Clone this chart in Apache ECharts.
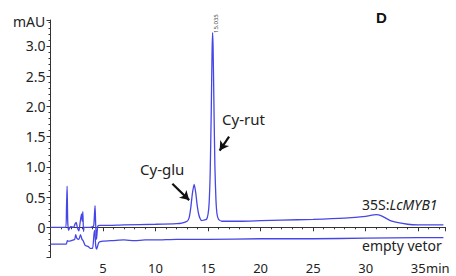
<!DOCTYPE html>
<html><head><meta charset="utf-8">
<script src="https://cdn.jsdelivr.net/npm/echarts@6/dist/echarts.min.js"></script>
<style>html,body{margin:0;padding:0;background:#fff}#c{width:456px;height:276px}</style>
</head><body><div id="c"></div>
<script>
// 35S:LcMYB1 trace (time min, mAU)
var topTime = [0, 1.0, 1.45, 1.52, 1.58, 1.64, 1.72, 1.9, 2.2, 2.35, 2.45, 2.55, 2.7, 2.8, 2.95, 3.02, 3.08, 3.14, 3.2, 3.35, 3.8, 4.1, 4.18, 4.24, 4.3, 4.38, 4.5, 4.7, 5, 7, 10, 12, 12.5, 13.0, 13.2, 13.35, 13.5, 13.67, 13.82, 13.95, 14.1, 14.25, 14.4, 14.6, 14.85, 15.0, 15.1, 15.2, 15.3, 15.38, 15.43, 15.48, 15.56, 15.65, 15.75, 15.85, 16.0, 16.3, 17, 18, 20, 22, 25, 28, 30, 31, 31.5, 32.5, 34, 35, 37.4];
var topVal  = [0, 0, 0, 0.3, 0.68, 0.1, -0.05, 0.01, 0.0, 0.06, 0.08, 0.0, -0.06, 0.05, 0.22, 0.1, 0.26, -0.07, 0.0, 0.0, 0.0, 0.02, 0.2, 0.36, 0.05, -0.2, 0.02, 0.03, 0.03, 0.04, 0.05, 0.06, 0.07, 0.1, 0.16, 0.32, 0.55, 0.71, 0.58, 0.38, 0.22, 0.14, 0.11, 0.12, 0.13, 0.22, 0.4, 0.9, 1.9, 2.9, 3.22, 2.95, 2.0, 1.0, 0.45, 0.22, 0.13, 0.1, 0.1, 0.1, 0.11, 0.12, 0.13, 0.15, 0.18, 0.21, 0.19, 0.1, 0.05, 0.04, 0.04];
// empty vetor trace
var botTime = [0, 1.0, 1.5, 1.6, 1.7, 2.0, 2.3, 2.4, 2.5, 2.7, 2.85, 3.0, 3.1, 3.3, 3.6, 3.8, 4.0, 4.15, 4.22, 4.3, 4.4, 4.6, 5, 6, 7, 8, 9, 10, 12, 15, 20, 25, 30, 35, 37.4];
var botVal  = [-0.28, -0.28, -0.28, -0.22, -0.23, -0.22, -0.2, -0.12, -0.18, -0.2, -0.12, -0.2, -0.22, -0.3, -0.32, -0.35, -0.35, -0.1, -0.05, -0.3, -0.36, -0.25, -0.23, -0.22, -0.21, -0.22, -0.21, -0.21, -0.2, -0.2, -0.19, -0.19, -0.18, -0.17, -0.17];
var xTicks = [5, 10, 15, 20, 25, 30, 35];
var yTicks = [0, 0.5, 1.0, 1.5, 2.0, 2.5, 3.0];

function pairs(t, v){ return t.map(function(x,i){ return [x, v[i]]; }); }

var chart = echarts.init(document.getElementById('c'), null, {renderer:'svg'});
var FONT = 'Noto Sans';
var blue = '#4646e6';
chart.setOption({
  animation:false,
  grid:{left:50.5, right:10.5, top:20, bottom:18.5},
  xAxis:{type:'value', min:0, max:37.6, interval:5,
    axisLine:{lineStyle:{color:'#333', width:1}},
    axisTick:{show:true, inside:false, length:4, lineStyle:{color:'#333'}},
    minorTick:{show:true, splitNumber:5, length:2, lineStyle:{color:'#333'}},
    splitLine:{show:false},
    axisLabel:{margin:4, fontFamily:FONT, fontSize:13, lineHeight:13, color:'#222',
      formatter:function(v){ return xTicks.indexOf(v)>=0 ? String(v) : ''; }}
  },
  yAxis:{type:'value', min:-0.5, max:3.43, interval:0.5,
    axisLine:{show:true, lineStyle:{color:'#333', width:1}},
    axisTick:{show:true, inside:false, length:4, lineStyle:{color:'#333'}},
    minorTick:{show:true, splitNumber:5, length:2, lineStyle:{color:'#333'}},
    splitLine:{show:false},
    axisLabel:{margin:5, fontFamily:FONT, fontSize:14, color:'#222',
      formatter:function(v){
        for (var i=0;i<yTicks.length;i++){ if (Math.abs(v-yTicks[i])<1e-6) return v===0?'0':yTicks[i].toFixed(1); }
        return '';
      }}
  },
  series:[
    {type:'line', data:pairs(topTime, topVal), showSymbol:false, smooth:0.2,
      lineStyle:{color:blue, width:1.3}, z:3,
      markLine:{silent:true, symbol:['none','arrow'], symbolSize:[8,9],
        lineStyle:{color:'#111', width:2.2, type:'solid'}, label:{show:false},
        data:[
          [{coord:[11.6, 0.72]}, {coord:[13.2, 0.45]}],
          [{coord:[17.0, 1.5]}, {coord:[16.1, 1.27]}]
        ]}
    },
    {type:'line', data:pairs(botTime, botVal), showSymbol:false, smooth:0.2,
      lineStyle:{color:blue, width:1.3}, z:2}
  ],
  graphic:[
    {type:'text', left:13, top:14, style:{text:'mAU', font:'14px "Noto Sans"', fill:'#222'}},
    {type:'text', left:426, top:261, style:{text:'min', font:'13px "Noto Sans"', fill:'#222'}},
    {type:'text', left:376, top:10, style:{text:'D', font:'bold 15px "Liberation Sans"', fill:'#111'}},
    {type:'text', left:140, top:161, style:{text:'Cy-glu', font:'15px "Noto Sans"', fill:'#222'}},
    {type:'text', left:222, top:111, style:{text:'Cy-rut', font:'15px "Noto Sans"', fill:'#222'}},
    {type:'text', left:362, top:197, style:{rich:{a:{font:'14px "Noto Sans"', fill:'#222'}, b:{font:'italic 14px "Noto Sans"', fill:'#222'}}, text:'{a|35S:}{b|LcMYB1}'}},
    {type:'text', left:362, top:238, style:{text:'empty vetor', font:'14px "Noto Sans"', fill:'#222'}},
    {type:'text', x:216, y:33, rotation:Math.PI/2, style:{text:'15.035', font:'6px "Noto Sans"', fill:'#444', align:'left', verticalAlign:'middle'}}
  ]
});
</script></body></html>
